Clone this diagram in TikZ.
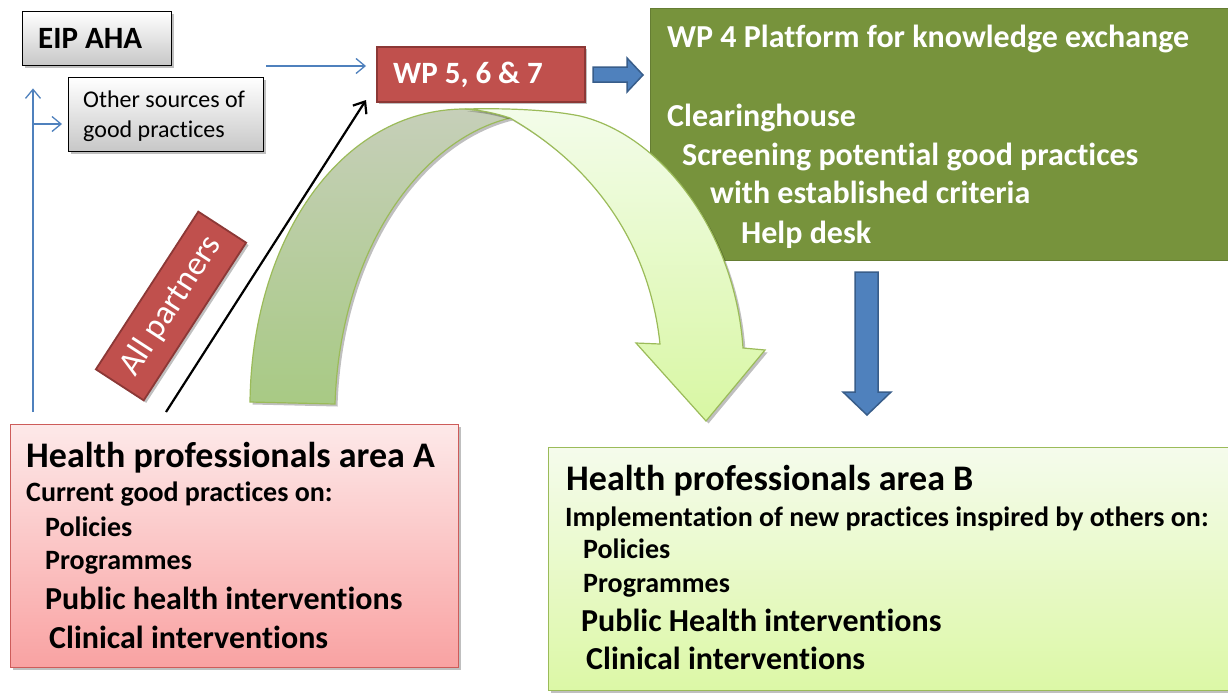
\documentclass[tikz,border=0pt]{standalone}
\usepackage{fontspec}
\setmainfont{Carlito}[Ligatures=NoCommon]
\usetikzlibrary{arrows.meta,shadows}
\definecolor{wpred}{HTML}{C0504D}
\definecolor{wpredline}{HTML}{8C3836}
\definecolor{wpgreen}{HTML}{77933C}
\definecolor{arrowblue}{HTML}{4F81BD}
\definecolor{arrowblueline}{HTML}{385D8A}
\definecolor{leafline}{HTML}{9BBB59}
\definecolor{darktop}{HTML}{C6CFB9}
\definecolor{darkbot}{HTML}{A8CA84}
\definecolor{lighttop}{HTML}{F3FCEA}
\definecolor{lightbot}{HTML}{D8F7A3}
\definecolor{pinktop}{HTML}{FDE9E9}
\definecolor{pinkbot}{HTML}{F9A2A2}
\definecolor{pinkline}{HTML}{CD5C5A}
\definecolor{btop}{HTML}{F5FBEC}
\definecolor{bbot}{HTML}{DCF8A6}
\newcommand{\fsz}[1]{\fontsize{#1}{#1}\selectfont}
\tikzset{
  softshadow/.style={drop shadow={shadow xshift=2.5pt,shadow yshift=-2.5pt,fill=black,opacity=0.25}},
  graybox/.style={rectangle,draw=black,line width=1.4pt,top color=white,bottom color=black!22,softshadow,inner sep=0pt,anchor=north west},
  redbox/.style={rectangle,draw=wpredline,line width=1.8pt,fill=wpred,softshadow,inner sep=0pt},
  greenbox/.style={rectangle,draw=wpgreen!85!black,line width=0.8pt,fill=wpgreen,inner sep=0pt,anchor=north west},
  pinkbox/.style={rectangle,draw=pinkline,line width=1.2pt,top color=pinktop,bottom color=pinkbot,softshadow,inner sep=0pt,anchor=north west},
  limebox/.style={rectangle,draw=leafline,line width=1.2pt,top color=btop,bottom color=bbot,softshadow,inner sep=0pt,anchor=north west},
  txt/.style={inner sep=0pt,anchor=base west},
  wtxt/.style={txt,text=white,font=\bfseries\fsz{32}},
  bluearrow/.style={draw=arrowblue,line width=1.3pt,-{Straight Barb[length=9pt,width=15pt]}},
  blackarrow/.style={draw=black,line width=2.2pt,-{Straight Barb[length=10pt,width=16pt]}},
  blockarrow/.style={fill=arrowblue,draw=arrowblueline,line width=1.5pt,line join=miter},
  leafdark/.style={top color=darktop,bottom color=darkbot,draw=leafline,line width=1.2pt},
  leaflight/.style={top color=lighttop,bottom color=lightbot,draw=leafline,line width=1.2pt}
}
\begin{document}
\begin{tikzpicture}[x=1pt,y=-1pt]
\useasboundingbox (0,0) rectangle (1228,694);
\fill[white] (0,0) rectangle (1228,694);

% gray boxes
\node[graybox,minimum width=149pt,minimum height=54pt] (eip) at (22,11) {};
\node[txt,font=\bfseries\fsz{31}] (eiptxt) at (38,48) {EIP AHA};
\node[graybox,minimum width=195pt,minimum height=74pt] (other) at (68,77) {};
\node[txt,font=\fsz{24}] (othera) at (83,107) {Other sources of};
\node[txt,font=\fsz{24}] (otherb) at (83,137) {good practices};

% WP 5,6 & 7
\node[redbox,minimum width=208pt,minimum height=55pt,anchor=north west] (wp) at (376,46) {};
\node[wtxt,font=\bfseries\fsz{31}] (wptxt) at (393,83) {WP 5, 6 \& 7};

% WP 4 platform
\node[greenbox,minimum width=580pt,minimum height=252pt] (wpf) at (650,8) {};
\node[wtxt] (wpfa) at (667,47) {WP 4 Platform for knowledge exchange};
\node[wtxt] (wpfb) at (667,126) {Clearinghouse};
\node[wtxt] (wpfc) at (682,165) {Screening potential good practices};
\node[wtxt] (wpfd) at (710,203) {with established criteria};
\node[wtxt] (wpfe) at (741,243) {Help desk};

% curved arrow
\path[leafdark,softshadow] (250,402) .. controls (252,240) and (340,109) .. (465,109)
  .. controls (480,110) and (495,113) .. (510,118)
  .. controls (420,140) and (340,250) .. (335,404) -- cycle;
\path[leaflight,softshadow] (465,109) .. controls (510,108) and (550,110) .. (580,116)
  .. controls (660,135) and (735,230) .. (743,348) -- (765,350) -- (706,421) -- (636,343) -- (660,344)
  .. controls (650,250) and (600,170) .. (510,118)
  .. controls (495,113) and (480,110) .. (465,109) -- cycle;

% block arrows
\path[blockarrow] (593,67) -- (627,67) -- (627,58) -- (643,75) -- (627,92) -- (627,82) -- (593,82) -- cycle;
\path[blockarrow] (855,272) -- (878,272) -- (878,392) -- (891,392) -- (867,415) -- (843,392) -- (855,392) -- cycle;

% All partners
\node[redbox,minimum width=188pt,minimum height=57pt,rotate=57,text=white,font=\fsz{34}] (allp) at (171,306) {All partners};

% Health A
\node[pinkbox,minimum width=448pt,minimum height=243pt] (ha) at (10,424) {};
\node[txt,font=\bfseries\fsz{36}] (haa) at (26,467) {Health professionals area A};
\node[txt,font=\bfseries\fsz{28}] (hab) at (26,501) {Current good practices on:};
\node[txt,font=\bfseries\fsz{28}] (hac) at (45,536) {Policies};
\node[txt,font=\bfseries\fsz{28}] (had) at (45,569) {Programmes};
\node[txt,font=\bfseries\fsz{32}] (hae) at (45,609) {Public health interventions};
\node[txt,font=\bfseries\fsz{32}] (haf) at (49,648) {Clinical interventions};

% Health B
\node[limebox,minimum width=680pt,minimum height=243pt] (hb) at (548,447) {};
\node[txt,font=\bfseries\fsz{36}] (hba) at (566,490) {Health professionals area B};
\node[txt,font=\bfseries\fsz{28}] (hbb) at (565,526) {Implementation of new practices inspired by others on:};
\node[txt,font=\bfseries\fsz{28}] (hbc) at (583,558) {Policies};
\node[txt,font=\bfseries\fsz{28}] (hbd) at (583,592) {Programmes};
\node[txt,font=\bfseries\fsz{32}] (hbe) at (581,631) {Public Health interventions};
\node[txt,font=\bfseries\fsz{32}] (hbf) at (586,669) {Clinical interventions};

% thin connectors
\coordinate (vbase) at (33,412);
\coordinate (hbase) at (33,124);
\coordinate (tstart) at (266,66);
\coordinate (bstart) at (166,412);
\coordinate (bend) at (366,100);
\draw[bluearrow,shorten >=22pt] (vbase) -- (vbase |- eip.south);
\draw[bluearrow,shorten >=6pt] (hbase) -- (hbase -| other.west);
\draw[bluearrow,shorten >=10pt] (tstart) -- (tstart -| wp.west);
\draw[blackarrow] (bstart) -- (bend);
\end{tikzpicture}
\end{document}
